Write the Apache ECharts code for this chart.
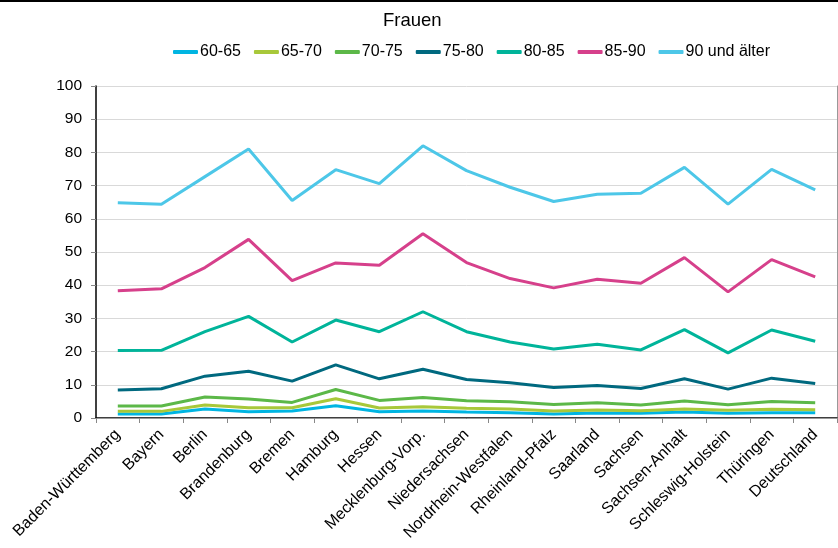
<!DOCTYPE html>
<html>
<head>
<meta charset="utf-8">
<script src="https://cdn.jsdelivr.net/npm/echarts@6/dist/echarts.min.js"></script>
<style>html,body{margin:0;padding:0;background:#fff;}#c{width:838px;height:548px;}</style>
</head>
<body>
<div id="c"></div>
<script>
const categories = ["Baden-Württemberg","Bayern","Berlin","Brandenburg","Bremen","Hamburg","Hessen","Mecklenburg-Vorp.","Niedersachsen","Nordrhein-Westfalen","Rheinland-Pfalz","Saarland","Sachsen","Sachsen-Anhalt","Schleswig-Holstein","Thüringen","Deutschland"];
const seriesNames = ["60-65","65-70","70-75","75-80","80-85","85-90","90 und älter"];
const s60_65 = [1.2,1.2,2.7,1.9,2.1,3.7,1.9,2.1,1.8,1.6,1.2,1.5,1.4,1.8,1.4,1.6,1.6];
const s65_70 = [2.0,2.0,3.9,3.1,3.1,5.8,3.0,3.4,2.9,2.7,2.1,2.4,2.2,2.7,2.3,2.6,2.5];
const s70_75 = [3.6,3.6,6.3,5.7,4.7,8.6,5.3,6.2,5.2,4.9,4.1,4.6,3.9,5.1,4.0,5.0,4.6];
const s75_80 = [8.4,8.8,12.6,14.1,11.1,16.0,11.8,14.7,11.6,10.6,9.2,9.8,8.9,11.8,8.7,12.0,10.4];
const s80_85 = [20.3,20.4,26.0,30.6,22.9,29.5,26.0,32.0,26.0,22.9,20.8,22.2,20.5,26.6,19.6,26.5,23.1];
const s85_90 = [38.3,38.9,45.3,53.8,41.4,46.7,46.0,55.5,46.8,42.0,39.2,41.8,40.6,48.3,38.0,47.7,42.5];
const s90plus = [64.8,64.4,72.7,81.0,65.5,74.8,70.6,82.0,74.5,69.5,65.2,67.4,67.7,75.5,64.4,74.9,68.7];
const yTicks = {min: 0, max: 100, interval: 10};

const allValues = [s60_65,s65_70,s70_75,s75_80,s80_85,s85_90,s90plus];
const colors = ["#00b5e2","#a8c83a","#5cb848","#00697f","#00b49a","#d6408b","#4dc7e8"];
const FONT = "Liberation Sans, Arial, sans-serif";

const chart = echarts.init(document.getElementById('c'), null, {renderer:'canvas'});
chart.setOption({
  animation: false,
  backgroundColor: '#fff',
  color: colors,
  title: {
    text: 'Frauen', left: 378, top: 6,
    textStyle: {fontFamily: FONT, fontSize: 18.5, fontWeight: 'normal', color: '#000'}
  },
  legend: {
    top: 39, left: 168,
    itemWidth: 25, itemHeight: 4, itemGap: 13,
    icon: 'roundRect',
    textStyle: {fontFamily: FONT, fontSize: 16, color: '#000', padding: [0,0,0,-3]},
    data: seriesNames
  },
  grid: {left: 96, right: 1, top: 86, bottom: 130},
  xAxis: [{
    type: 'category', data: categories, boundaryGap: true,
    axisLine: {lineStyle: {color: '#000', width: 1.5}},
    axisTick: {show: true, alignWithLabel: false, length: 5, lineStyle: {color: '#888'}},
    axisLabel: {rotate: 45, interval: 0, margin: 14, fontFamily: FONT, fontSize: 16, color: '#000'},
    splitLine: {show: false}
  },{
    type: 'category', data: categories, position: 'top',
    axisLine: {lineStyle: {color: '#999', width: 1}},
    axisTick: {show: false}, axisLabel: {show: false}, splitLine: {show: false}
  }],
  yAxis: [{
    type: 'value', min: yTicks.min, max: yTicks.max, interval: yTicks.interval,
    axisLine: {show: true, lineStyle: {color: '#000', width: 1.5}},
    axisTick: {show: true, length: 5, lineStyle: {color: '#888'}},
    axisLabel: {margin: 14, fontFamily: FONT, fontSize: 15.5, color: '#000'},
    splitLine: {show: true, lineStyle: {color: '#d9d9d9', width: 1}}
  },{
    type: 'value', min: yTicks.min, max: yTicks.max, interval: yTicks.interval, position: 'right',
    axisLine: {show: true, lineStyle: {color: '#999', width: 1}},
    axisTick: {show: false}, axisLabel: {show: false}, splitLine: {show: false}
  }],
  graphic: [{
    type: 'rect', left: 0, top: 0, shape: {width: 838, height: 2}, style: {fill: '#000'}
  }],
  series: seriesNames.map((n, i) => ({
    name: n, type: 'line', data: allValues[i], symbol: 'none',
    lineStyle: {width: 3, color: colors[i]}, itemStyle: {color: colors[i]},
    xAxisIndex: 0, yAxisIndex: 0
  }))
});
</script>
</body>
</html>
